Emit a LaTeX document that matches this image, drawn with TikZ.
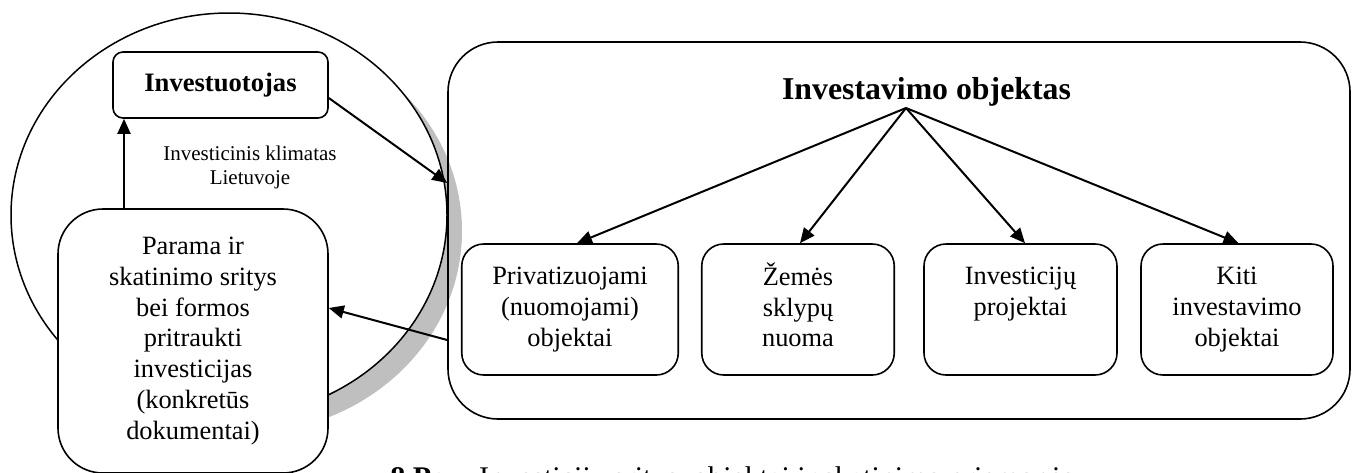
\documentclass[tikz,border=0pt]{standalone}
\usepackage{fontspec}
\setmainfont{Liberation Serif}
\usetikzlibrary{arrows.meta,calc}
\begin{document}
\begin{tikzpicture}[x=0.5pt,y=-0.5pt,
  box/.style={draw,line width=0.8pt,rounded corners=#1,inner sep=0pt,align=center},
  arr/.style={line width=1pt,-{Triangle[length=7.5pt,width=6.5pt]}},
  body/.style={font=\fontsize{13.2pt}{15.35pt}\selectfont},
  shadowgray/.style={fill=black!25}]
\path[use as bounding box] (0,0) rectangle (1352,472);
\begin{scope}
\clip (0,0) rectangle (1352,472);
% circle with shadow
\path[shadowgray] (244,231) ellipse [x radius=109pt, y radius=101pt];
\draw[line width=0.75pt, fill=white] (229,215) ellipse [x radius=109pt, y radius=101pt];
% big box
\node[box=25pt, minimum width=451pt, minimum height=188.5pt] (big) at (899,230.5) {};
\node[font=\bfseries\fontsize{15.9pt}{18pt}\selectfont] (title) at (926.5,92) {Investavimo objektas};
\coordinate (apex) at (906,108);
% small boxes (text aligned to the top, three line slots each)
\node[box=11pt, body, minimum width=108.25pt, minimum height=65.5pt] (b1) at (570,309.5) {\strut Privatizuojami\\(nuomojami)\\objektai\strut};
\node[box=11pt, body, minimum width=96.25pt, minimum height=65.5pt] (b2) at (798,309.5) {\strut Žemės\\sklypų\\nuoma\strut};
\node[box=11pt, body, minimum width=96.5pt, minimum height=65.5pt] (b3) at (1020.5,309.5) {\strut Investicijų\\projektai\\\strut};
\node[box=11pt, body, minimum width=96pt, minimum height=65.5pt] (b4) at (1237,309.5) {\strut Kiti\\investavimo\\objektai\strut};
\draw[arr] (apex) -- (b1.north -| 577,0);
\draw[arr] (apex) -- (b2.north -| 800,0);
\draw[arr] (apex) -- (b3.north -| 1025,0);
\draw[arr] (apex) -- (b4.north -| 1238.5,0);
% left part
\node[box=22.5pt, body, fill=white, minimum width=135pt, minimum height=132pt] (par) at (193,341)
  {Parama ir\\skatinimo sritys\\bei formos\\pritraukti\\investicijas\\(konkretūs\\dokumentai)};
\node[box=5pt, fill=white, font=\bfseries\fontsize{13.3pt}{16pt}\selectfont, minimum width=107.5pt, minimum height=33pt] (inv) at (220.5,85) {Investuotojas};
\node[font=\fontsize{10.5pt}{12pt}\selectfont, align=center, inner sep=0pt] (clim) at (250,167) {Investicinis klimatas\\Lietuvoje};
\coordinate (vx) at (124,0);
\draw[arr] (par.north -| vx) -- (inv.south -| vx);
\draw[arr] (inv.east |- 0,98) -- (big.west |- 0,183);
\draw[arr] (big.west |- 0,340) -- (par.east |- 0,308);
% caption (cut off at the bottom)
\node[anchor=base west, inner sep=0pt, font=\fontsize{15pt}{18pt}\selectfont] (cap) at (390,487)
  {\textbf{8 Pav.}\hspace{6pt}Investicijų sritys, objektai ir skatinimo priemonės};
\end{scope}
\end{tikzpicture}
\end{document}
